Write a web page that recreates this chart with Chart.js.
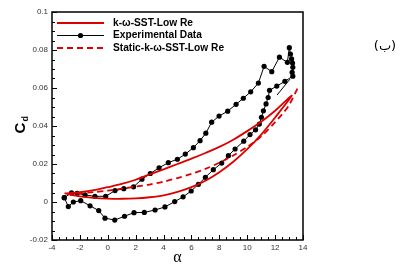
<!DOCTYPE html>
<html><head><meta charset="utf-8">
<script src="https://cdn.jsdelivr.net/npm/chart.js@4/dist/chart.umd.min.js"></script>
<style>html,body{margin:0;padding:0;background:#fff}#wrap{width:416px;height:267px;position:relative}</style>
</head><body><div id="wrap"><canvas id="c" width="416" height="267"></canvas></div>
<script>
// ---- data ----
const expAlpha = [-3.12,-2.6,-2.2,-1.63,-0.92,-0.15,0.52,1.15,1.85,2.45,3.05,3.68,4.34,4.99,5.56,6.14,6.62,7.03,7.45,7.98,8.6,9.2,9.72,10.25,10.8,11.21,11.76,12.31,12.88,13.02,13.1,13.18,13.25,13.27,13.22,13.27,
  12.7,12.12,11.6,11.5,11.35,11.16,11.02,10.87,10.6,10.2,9.75,9.13,8.65,8.17,7.57,7.0,6.5,5.98,5.4,4.8,4.1,3.39,2.62,1.88,1.2,0.5,-0.2,-0.65,-1.27,-1.94,-2.47,-2.83,-3.12];
const expCd = [0.0023,0.0048,0.0046,0.0037,0.003,0.003,0.006,0.007,0.008,0.012,0.015,0.018,0.0207,0.0225,0.0252,0.0286,0.0323,0.0362,0.042,0.0452,0.0478,0.0514,0.0546,0.058,0.0626,0.0714,0.0686,0.0762,0.0735,0.0812,0.0779,0.0753,0.0731,0.0709,0.0683,0.0662,
  0.0635,0.061,0.0588,0.055,0.0516,0.048,0.0446,0.041,0.038,0.0355,0.032,0.0279,0.0244,0.0205,0.017,0.013,0.0093,0.0058,0.0027,0.0002,-0.0026,-0.0042,-0.0055,-0.0056,-0.0075,-0.0095,-0.0085,-0.0045,-0.002,0.0007,0.0,-0.0024,0.0023];
const sstAlpha = [-3.1,-2,-1,0,1,2,3,4,5,6,7,8,9,10,11,12,13.2, 12,11,10,9,8,7,6,5,4,3,2,1,0,-1,-2,-3.1];
const sstCd = [0.0045,0.0052,0.0062,0.0078,0.0095,0.0117,0.0145,0.0172,0.02,0.0228,0.0258,0.029,0.0328,0.0373,0.0422,0.048,0.056,
  0.0445,0.0355,0.0278,0.0212,0.0157,0.0112,0.0078,0.0053,0.0035,0.0025,0.0019,0.0017,0.0018,0.0022,0.003,0.0045];
const staticAlpha = [-2.9,-2,-1,0,1,2,3,4,5,6,7,8,9,10,11,12,12.5,13,13.7];
const staticCd = [0.0043,0.0046,0.0052,0.006,0.007,0.0081,0.0092,0.0107,0.0126,0.0148,0.0174,0.0207,0.0245,0.029,0.0345,0.042,0.0462,0.051,0.0612];
const arrowAlpha = [12.14,13.07];
const arrowCd = [0.0563,0.0647];
const xTickLabels = ['-4','-2','0','2','4','6','8','10','12','14'];
const yTickLabels = ['-0.02','0','0.02','0.04','0.06','0.08','0.1'];
const legendLabels = ['k-\u03c9-SST-Low Re','Experimental Data','Static-k-\u03c9-SST-Low Re'];
const xTitle = '\u03b1';
const yTitleMain = 'C', yTitleSub = 'd';
const panelLabel = '(\u0628)';

const RED = '#dd0000';
const pts = (a,b)=>a.map((x,i)=>({x:x,y:b[i]}));

const extras = {
  id:'extras',
  afterDraw(chart){
    const ctx = chart.ctx, ca = chart.chartArea;
    const xs = chart.scales.x, ys = chart.scales.y;
    ctx.save();
    // frame
    ctx.strokeStyle = '#000'; ctx.lineWidth = 1.5;
    ctx.strokeRect(ca.left, ca.top, ca.right-ca.left, ca.bottom-ca.top);
    // inward ticks
    ctx.lineWidth = 1;
    ctx.beginPath();
    for (let k=0; k<=36; k++){
      const v = -4 + k*0.5;
      const p = Math.round(xs.getPixelForValue(v))+0.5;
      const major = k%4===0;
      ctx.moveTo(p, ca.bottom); ctx.lineTo(p, ca.bottom-(major?5:3));
    }
    for (let k=-4; k<=20; k++){
      const v = k*0.005;
      const p = Math.round(ys.getPixelForValue(v))+0.5;
      const major = k%4===0;
      ctx.moveTo(ca.left, p); ctx.lineTo(ca.left+(major?5:3), p);
    }
    ctx.stroke();
    // y title
    ctx.save();
    ctx.translate(21, 126);
    ctx.rotate(-Math.PI/2);
    ctx.fillStyle = '#000';
    ctx.font = 'bold 15px "Liberation Sans", Arial, sans-serif';
    ctx.textBaseline = 'middle'; ctx.textAlign = 'left';
    const cw = ctx.measureText(yTitleMain).width;
    ctx.fillText(yTitleMain, -cw/2-2, 0);
    ctx.font = 'bold 9px "Liberation Sans", Arial, sans-serif';
    ctx.fillText(yTitleSub, cw/2-1, 5);
    ctx.restore();
    // legend
    const rows = [23, 35.5, 48];
    const lx0 = 57, lx1 = 104, tx = 113;
    ctx.font = 'bold 10.2px "Liberation Sans", Arial, sans-serif';
    ctx.textBaseline = 'middle'; ctx.textAlign = 'left'; ctx.fillStyle = '#000';
    ctx.strokeStyle = RED; ctx.lineWidth = 2; ctx.setLineDash([]);
    ctx.beginPath(); ctx.moveTo(lx0, rows[0]); ctx.lineTo(lx1, rows[0]); ctx.stroke();
    ctx.fillText(legendLabels[0], tx, rows[0]);
    ctx.strokeStyle = '#000'; ctx.lineWidth = 1;
    ctx.beginPath(); ctx.moveTo(lx0, rows[1]); ctx.lineTo(lx1, rows[1]); ctx.stroke();
    ctx.beginPath(); ctx.arc((lx0+lx1)/2, rows[1], 2.6, 0, Math.PI*2); ctx.fill();
    ctx.fillText(legendLabels[1], tx, rows[1]);
    ctx.strokeStyle = RED; ctx.lineWidth = 2; ctx.setLineDash([6,4]);
    ctx.beginPath(); ctx.moveTo(lx0, rows[2]); ctx.lineTo(lx1, rows[2]); ctx.stroke();
    ctx.setLineDash([]);
    ctx.fillText(legendLabels[2], tx, rows[2]);
    // panel label
    ctx.font = '13px "DejaVu Sans", sans-serif';
    ctx.textAlign = 'center';
    ctx.fillText(panelLabel, 385, 47);
    // x title
    ctx.font = '16px "Liberation Serif", serif';
    ctx.textBaseline = 'middle';
    ctx.fillText(xTitle, (ca.left+ca.right)/2, 258);
    ctx.restore();
  }
};

new Chart(document.getElementById('c'), {
  type:'scatter',
  data:{ datasets:[
    {label:legendLabels[2], data:pts(staticAlpha,staticCd), showLine:true, borderColor:RED, borderWidth:1.8, borderDash:[6,4], pointRadius:0, tension:0.3},
    {label:legendLabels[0], data:pts(sstAlpha,sstCd), showLine:true, borderColor:RED, borderWidth:1.8, pointRadius:0, tension:0.3},
    {label:'arrow', data:pts(arrowAlpha,arrowCd), showLine:true, borderColor:'#000', borderWidth:1, pointRadius:0},
    {label:legendLabels[1], data:pts(expAlpha,expCd), showLine:true, borderColor:'#000', borderWidth:1, pointRadius:2.6, pointBackgroundColor:'#000', pointBorderWidth:0, tension:0}
  ]},
  options:{
    responsive:false, animation:false,
    layout:{padding:{left:12, right:113, top:12, bottom:0}},
    plugins:{legend:{display:false}, tooltip:{enabled:false}},
    scales:{
      x:{type:'linear', min:-4, max:14,
        afterFit(s){ s.height = 27; },
        grid:{display:false, drawTicks:false, tickLength:0}, border:{display:false},
        ticks:{stepSize:2, autoSkip:false, maxRotation:0, padding:3, color:'#333',
          font:{size:8, family:'"Liberation Sans", Arial, sans-serif'},
          callback:(v)=>{ const i = Math.round((v+4)/2); return xTickLabels[i] ?? ''; }}
      },
      y:{type:'linear', min:-0.02, max:0.1,
        afterFit(s){ s.width = 40; },
        grid:{display:false, drawTicks:false, tickLength:0}, border:{display:false},
        ticks:{stepSize:0.02, padding:4, color:'#333',
          font:{size:8, family:'"Liberation Sans", Arial, sans-serif'},
          callback:(v)=>{ const i = Math.round((v+0.02)/0.02); return yTickLabels[i] ?? ''; }}
      }
    }
  },
  plugins:[extras]
});
</script></body></html>
